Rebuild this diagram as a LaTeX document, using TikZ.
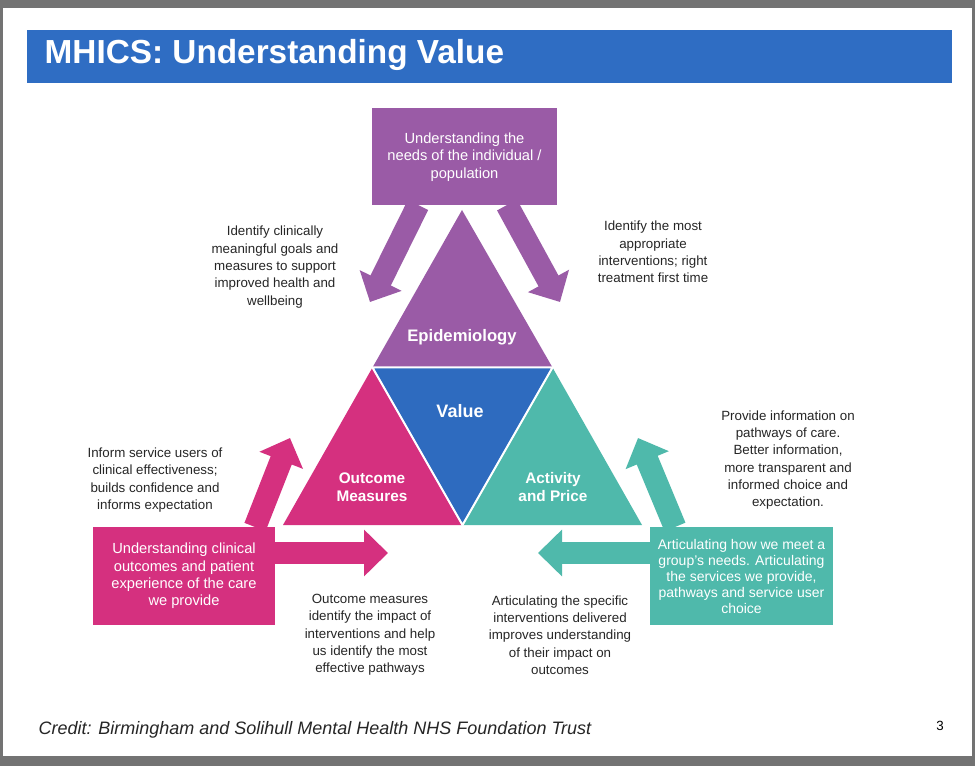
\documentclass[tikz,border=0pt]{standalone}
\usepackage{fontspec}
\setmainfont{Liberation Sans}
\usetikzlibrary{arrows.meta}
\definecolor{titleblue}{HTML}{2F6DC3}
\definecolor{epipurple}{HTML}{9A5BA6}
\definecolor{outpink}{HTML}{D5307F}
\definecolor{valblue}{HTML}{2E6BBF}
\definecolor{acttealc}{HTML}{4FB9AB}
\begin{document}
\begin{tikzpicture}[
            x = 0.75pt, y = -0.75pt, % pixel grid
            big arrow/.style = {line width = 17pt, -{Triangle[width = 34pt, length = 18pt]}},
            box/.style = {text = white, align = center, font = \fontsize{11}{13}\selectfont},
            note/.style = {text = black!85, align = center, font = \fontsize{10}{13}\selectfont},
            label/.style = {text = white, font = \bfseries\fontsize{11.5}{13.5}\selectfont, align = center}
        ]

        % frame
        \fill[black!55] (0,0) rectangle (975,766);
        \fill[white] (3,8) rectangle (972,756);
        \fill[titleblue] (27,30) rectangle (952,83);
        \node[anchor = west, text = white, font = \bfseries\fontsize{25}{27}\selectfont] (title) at (40,55) {MHICS: Understanding Value};

        % triangle
        \coordinate (top) at (462,210);
        \coordinate (bl) at (283,525);
        \coordinate (br) at (642,525);
        \coordinate (ml) at (372.5,367.5);
        \coordinate (mr) at (552.5,367.5);
        \coordinate (mb) at (462.5,525);
        \fill[epipurple] (top) -- (ml) -- (mr) -- cycle;
        \fill[outpink] (ml) -- (bl) -- (mb) -- cycle;
        \fill[acttealc] (mr) -- (mb) -- (br) -- cycle;
        \fill[valblue] (ml) -- (mr) -- (mb) -- cycle;
        \draw[white, line width = 1.5pt] (ml) -- (mr) -- (mb) -- cycle;
        \node[label, font = \bfseries\fontsize{12.5}{14}\selectfont] (epi) at (462,337) {Epidemiology};
        \node[label, font = \bfseries\fontsize{13.5}{15}\selectfont] (val) at (460,411) {Value};
        \node[label] (out) at (372,487) {Outcome\\Measures};
        \node[label] (act) at (553,487) {Activity\\and Price};

        % boxes
        \fill[epipurple] (372,108) rectangle (557,205);
        \node[box] (needs) at (464.5,157) {Understanding the\\needs of the individual /\\population};
        \fill[outpink] (93,527) rectangle (275,625);
        \node[box] (clin) at (184,576) {Understanding clinical\\outcomes and patient\\experience of the care\\we provide};
        \fill[acttealc] (650,527) rectangle (833,625);
        \node[box, font = \fontsize{10.5}{12}\selectfont] (grp) at (741.5,576) {Articulating how we meet a\\group's needs. Articulating\\the services we provide,\\pathways and service user\\choice};

        % arrows
        \draw[big arrow, epipurple] (418,205) -- (370,302);
        \draw[big arrow, epipurple] (507,205) -- (560,302);
        \draw[big arrow, outpink] (255,527) -- (290,438);
        \draw[big arrow, outpink] (275,553) -- (388,553);
        \draw[big arrow, acttealc] (675,527) -- (638,438);
        \draw[big arrow, acttealc] (650,553) -- (538,553);

        % notes
        \node[note] (n1) at (275,267) {Identify clinically\\meaningful goals and\\measures to support\\improved health and\\wellbeing};
        \node[note] (n2) at (653,252) {Identify the most\\appropriate\\interventions; right\\treatment first time};
        \node[note] (n3) at (155,480) {Inform service users of\\clinical effectiveness;\\builds confidence and\\informs expectation};
        \node[note] (n4) at (788,460) {Provide information on\\pathways of care.\\Better information,\\more transparent and\\informed choice and\\expectation.};
        \node[note] (n5) at (370,635) {Outcome measures\\identify the impact of\\interventions and help\\us identify the most\\effective pathways};
        \node[note] (n6) at (560,635) {Articulating the specific\\interventions delivered\\improves understanding\\of their impact on\\outcomes};

        % footer
        \node[anchor = west, font = \itshape\fontsize{13.5}{15}\selectfont, text = black!85] (credit) at (34,730) {Credit: Birmingham and Solihull Mental Health NHS Foundation Trust};
        \node[font = \fontsize{10}{12}\selectfont] (page) at (940,726) {3};
    \end{tikzpicture}
\end{document}
